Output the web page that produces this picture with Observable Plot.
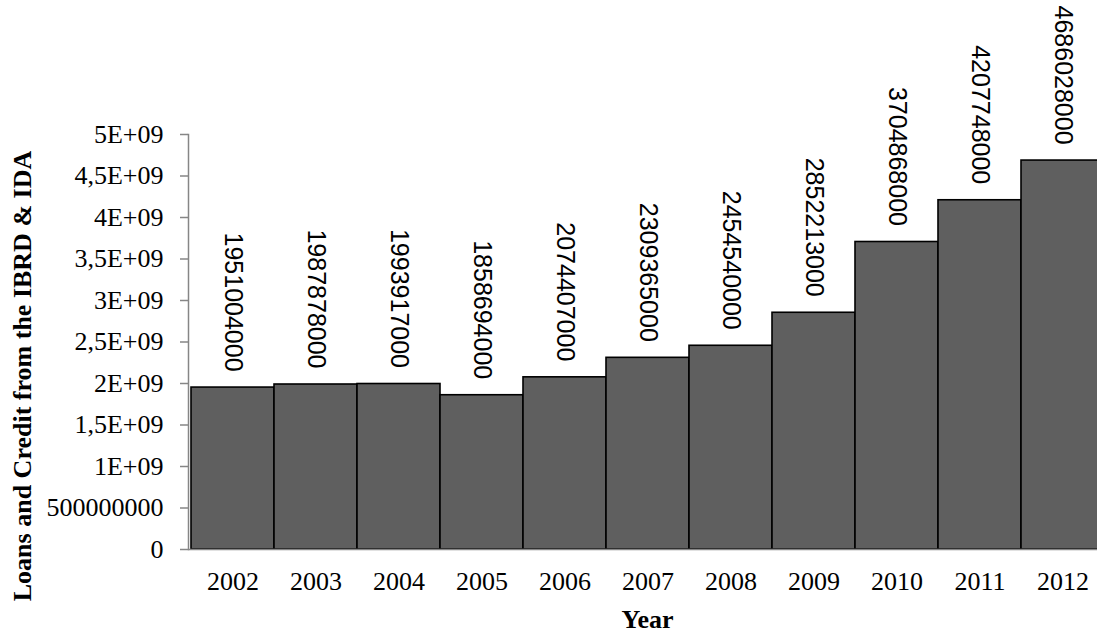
<!DOCTYPE html>
<html>
<head>
<meta charset="utf-8">
<script src="https://cdn.jsdelivr.net/npm/d3@7"></script>
<script src="https://cdn.jsdelivr.net/npm/@observablehq/plot@0.6"></script>
<style>
  html, body { margin: 0; padding: 0; background: #fff; overflow: hidden; }
  svg { display: block; }
</style>
</head>
<body>
<div id="chart"></div>
<script>
// World Bank lending (IBRD loans & IDA credits), by fiscal year
const years = ["2002", "2003", "2004", "2005", "2006", "2007", "2008", "2009", "2010", "2011", "2012"];
const loans = [1951004000, 1987878000, 1993917000, 1858694000, 2074407000, 2309365000,
               2454540000, 2852213000, 3704868000, 4207748000, 4686028000];

const yTicks = [0, 5e8, 1e9, 1.5e9, 2e9, 2.5e9, 3e9, 3.5e9, 4e9, 4.5e9, 5e9];
const yTickLabels = ["0", "500000000", "1E+09", "1,5E+09", "2E+09", "2,5E+09",
                     "3E+09", "3,5E+09", "4E+09", "4,5E+09", "5E+09"];

const yTitle = "Loans and Credit from the IBRD & IDA";
const xTitle = "Year";

const data = years.map((year, i) => ({year, value: loans[i]}));

const axisGrey = "#868686";
const serif = "'Liberation Serif', 'Times New Roman', serif";
const sans = "'Liberation Sans', Arial, sans-serif";

const chart = Plot.plot({
  width: 1097,
  height: 628,
  marginLeft: 188,
  marginRight: -9,
  marginTop: 134,
  marginBottom: 79,
  style: {fontFamily: serif, fontSize: "26px", color: "#000", background: "#fff", overflow: "visible"},
  x: {type: "band", domain: years, padding: 0, axis: null},
  y: {domain: [0, 5e9], axis: null},
  marks: [
    Plot.barY(data, {
      x: "year", y: "value",
      fill: "#5f5f5f", stroke: "#000", strokeWidth: 1.6
    }),
    Plot.ruleY([0], {stroke: axisGrey, strokeWidth: 1.5}),
    Plot.frame({anchor: "left", stroke: axisGrey, strokeWidth: 1.5}),
    Plot.axisY({
      ticks: yTicks,
      tickFormat: d => yTickLabels[yTicks.indexOf(d)],
      tickSize: 8, tickPadding: 17,
      stroke: axisGrey, fill: "#000", strokeWidth: 1.5,
      fontSize: 26, label: null
    }),
    Plot.axisX({
      tickSize: 0, tickPadding: 22,
      fill: "#000", fontSize: 26, label: null
    }),
    // value labels, rotated, just above each bar
    Plot.text(data, {
      x: "year", y: "value",
      text: d => String(d.value),
      rotate: 90, textAnchor: "end", lineAnchor: "middle",
      dy: -16,
      fontFamily: sans, fontSize: 25, fill: "#000"
    }),
    // axis titles
    Plot.text([yTitle], {
      text: d => d, frameAnchor: "left", rotate: -90,
      textAnchor: "middle", lineAnchor: "middle",
      dx: -166, dy: 34,
      fontWeight: "bold", fontSize: 26, fill: "#000"
    }),
    Plot.text([xTitle], {
      text: d => d, frameAnchor: "bottom",
      textAnchor: "middle", lineAnchor: "middle",
      dy: 70,
      fontWeight: "bold", fontSize: 26, fill: "#000"
    })
  ]
});

document.getElementById("chart").appendChild(chart);
</script>
</body>
</html>
